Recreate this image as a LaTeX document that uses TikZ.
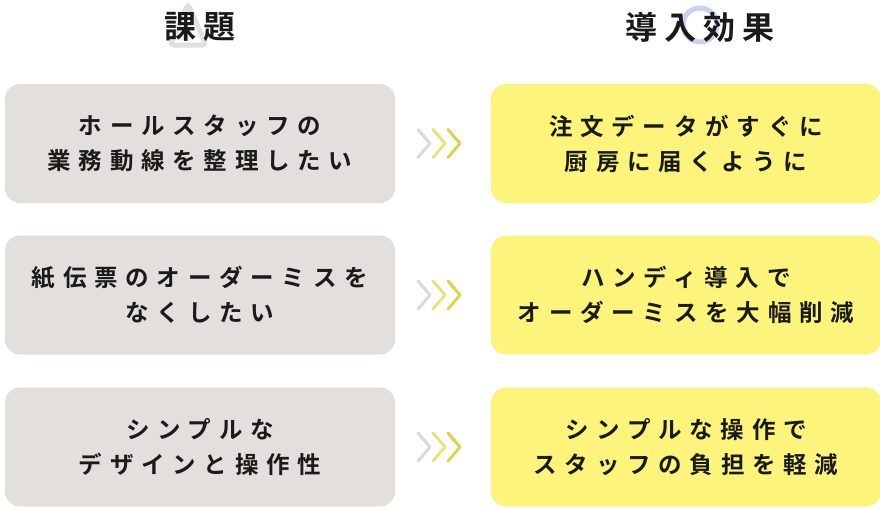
\documentclass[tikz,border=0pt]{standalone}
\usepackage{fontspec}
\setmainfont{Noto Sans CJK JP}[BoldFont={* Bold}]
\newfontfamily\cjkbold{Noto Sans CJK JP Bold}[LetterSpace=33]
\newfontfamily\cjkhead{Noto Sans CJK JP Bold}[LetterSpace=22]
\definecolor{issuegray}{HTML}{E3DFDC}
\definecolor{effectyellow}{HTML}{FDF57B}
\definecolor{chevgray}{HTML}{DDDAD6}
\definecolor{chevlight}{HTML}{E9E27E}
\definecolor{chevdark}{HTML}{DDD447}
\definecolor{ringblue}{HTML}{C9D0F2}
\definecolor{textdark}{HTML}{1A1A1A}
\tikzset{
  card/.style={rounded corners=15pt, minimum width=390pt, minimum height=119pt,
    align=center, font=\cjkbold\fontsize{23.5}{35}\selectfont, text=textdark, inner sep=0pt},
  issue/.style={card, fill=issuegray},
  effect/.style={card, fill=effectyellow},
  head/.style={font=\cjkhead\fontsize{32}{34}\selectfont, text=textdark},
  chev/.style={line width=3pt, line join=round, line cap=round},
}
\begin{document}
\begin{tikzpicture}[x=1pt,y=-1pt]
  \useasboundingbox (0,0) rectangle (880,507);
  % header decorations
  \draw[line width=5pt, color=issuegray, rounded corners=4pt]
    (188,4) -- (206,45) -- (170,45) -- cycle;
  \draw[line width=5pt, color=ringblue] (700,25) circle (17);
  \node[head] (hissue) at (200,27) {課題};
  \node[head] (heffect) at (700,27) {導入効果};
  % rows
  \foreach \i/\y/\l/\r in {
      1/143.5/{ホールスタッフの\\業務動線を整理したい}/{注文データがすぐに\\厨房に届くように},
      2/295/{紙伝票のオーダーミスを\\なくしたい}/{ハンディ導入で\\オーダーミスを大幅削減},
      3/447/{シンプルな\\デザインと操作性}/{シンプルな操作で\\スタッフの負担を軽減}} {
    \node[issue] (issue\i) at (200,\y) {\l};
    \node[effect] (effect\i) at (686,\y) {\r};
    \draw[chev, chevgray] (418,\y-14) -- (430,\y) -- (418,\y+14);
    \draw[chev, chevlight] (433,\y-14) -- (445,\y) -- (433,\y+14);
    \draw[chev, chevdark] (448,\y-14) -- (460,\y) -- (448,\y+14);
  }
\end{tikzpicture}
\end{document}
